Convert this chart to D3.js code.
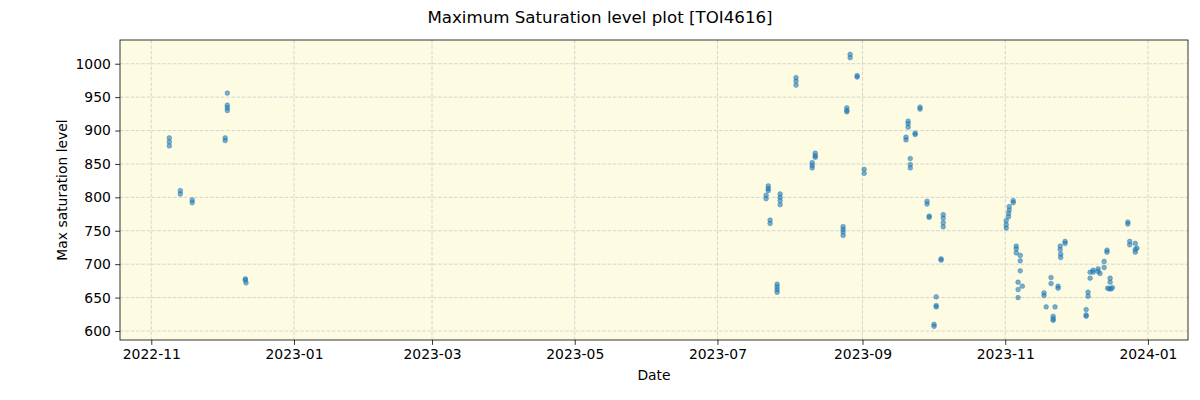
<!DOCTYPE html>
<html>
<head>
<meta charset="utf-8">
<script src="https://cdn.jsdelivr.net/npm/d3@7"></script>
<style>
  html, body { margin: 0; padding: 0; background: #ffffff; }
  svg { display: block; font-family: "DejaVu Sans", sans-serif; }
</style>
</head>
<body>
<svg id="chart" width="1200" height="400"></svg>
<script>
// ---- data ----
const chartTitle = "Maximum Saturation level plot [TOI4616]";
const xLabel = "Date";
const yLabel = "Max saturation level";

const obsDates = [
  "2022-11-08T17","2022-11-08T17","2022-11-08T17",
  "2022-11-13T10","2022-11-13T10",
  "2022-11-18T12","2022-11-18T12",
  "2022-12-03T12","2022-12-03T12","2022-12-03T12","2022-12-03T12",
  "2022-12-02T14","2022-12-02T14",
  "2022-12-11T05","2022-12-11T05","2022-12-11T12",
  "2023-07-22T17","2023-07-22T17","2023-07-22T17",
  "2023-07-21T19","2023-07-21T19",
  "2023-07-27T19","2023-07-27T19","2023-07-27T19","2023-07-27T19",
  "2023-07-23T12","2023-07-23T12",
  "2023-07-26T12","2023-07-26T12","2023-07-26T12","2023-07-26T12",
  "2023-08-03T14","2023-08-03T14","2023-08-03T14",
  "2023-08-11T19","2023-08-11T19","2023-08-11T19",
  "2023-08-10T12","2023-08-10T12","2023-08-10T12",
  "2023-08-23T17","2023-08-23T17","2023-08-23T17","2023-08-23T17",
  "2023-08-25T07","2023-08-25T07","2023-08-25T07",
  "2023-08-26T17","2023-08-26T17",
  "2023-08-29T17","2023-08-29T17",
  "2023-09-01T17","2023-09-01T17",
  "2023-09-19T14","2023-09-19T14",
  "2023-09-20T12","2023-09-20T12","2023-09-20T12",
  "2023-09-21T10","2023-09-21T10","2023-09-21T10",
  "2023-09-23T12","2023-09-23T12",
  "2023-09-25T14","2023-09-25T14",
  "2023-09-28T14","2023-09-28T14",
  "2023-09-29T12","2023-09-29T12",
  "2023-10-01T14","2023-10-01T14",
  "2023-10-02T12","2023-10-02T12","2023-10-02T12",
  "2023-10-04T14","2023-10-04T14",
  "2023-10-05T12","2023-10-05T12","2023-10-05T12","2023-10-05T12",
  "2023-11-01T10","2023-11-01T10","2023-11-01T10",
  "2023-11-02T10","2023-11-02T10","2023-11-02T17","2023-11-02T17",
  "2023-11-04T10","2023-11-04T10",
  "2023-11-05T17","2023-11-05T17","2023-11-05T17",
  "2023-11-06T12","2023-11-06T12","2023-11-06T12",
  "2023-11-07T10","2023-11-07T10","2023-11-07T10",
  "2023-11-08T07",
  "2023-11-17T14","2023-11-17T14",
  "2023-11-18T12",
  "2023-11-20T14","2023-11-20T14",
  "2023-11-21T12","2023-11-21T12","2023-11-21T12",
  "2023-11-22T07",
  "2023-11-23T14","2023-11-23T14",
  "2023-11-24T12","2023-11-24T12","2023-11-24T17","2023-11-24T17",
  "2023-11-26T14","2023-11-26T14",
  "2023-12-05T14","2023-12-05T14","2023-12-05T14",
  "2023-12-06T10","2023-12-06T10",
  "2023-12-07T07","2023-12-07T07",
  "2023-12-08T14","2023-12-08T14",
  "2023-12-10T17","2023-12-10T17","2023-12-11T12",
  "2023-12-13T07","2023-12-13T07",
  "2023-12-14T12","2023-12-14T12",
  "2023-12-15T20","2023-12-15T20",
  "2023-12-14T19","2023-12-15T12","2023-12-16T07","2023-12-16T19",
  "2023-12-23T10","2023-12-23T10",
  "2023-12-24T05","2023-12-24T05",
  "2023-12-26T14","2023-12-26T14","2023-12-26T14","2023-12-27T07"
];
const satLevels = [
  889,883,877,
  810,805,
  796,792,
  956,938,934,930,
  889,885,
  678,676,672,
  817,813,810,
  803,798,
  805,800,795,789,
  766,761,
  670,666,662,658,
  979,974,968,
  866,862,860,
  852,848,844,
  756,752,748,743,
  934,930,928,
  1014,1009,
  982,980,
  842,836,
  890,886,
  914,910,905,
  858,849,844,
  896,894,
  935,932,
  794,790,
  772,770,
  610,607,
  651,638,636,
  708,706,
  774,769,762,756,
  765,759,754,
  771,776,781,786,
  795,792,
  727,723,717,
  673,662,650,
  713,705,690,
  667,
  657,653,
  636,
  680,671,
  622,618,616,
  636,
  667,664,
  727,722,715,710,
  734,731,
  632,624,622,
  658,652,
  688,679,
  691,688,
  693,689,686,
  704,695,
  721,718,
  679,673,
  664,663,663,665,
  763,760,
  734,729,
  731,722,718,724
];
const xTickDates = ["2022-11-01","2023-01-01","2023-03-01","2023-05-01","2023-07-01","2023-09-01","2023-11-01","2024-01-01"];
const xTickLabels = ["2022-11","2023-01","2023-03","2023-05","2023-07","2023-09","2023-11","2024-01"];
const yTicks = [600,650,700,750,800,850,900,950,1000];
const xDomain = ["2022-10-18T15","2024-01-18T03"];
const yDomain = [586.5, 1035.5];

// ---- drawing ----
const W = 1200, H = 400;
const plot = {left: 120, right: 1188, top: 40, bottom: 340};
const parseT = d3.utcParse("%Y-%m-%dT%H");
const parseD = d3.utcParse("%Y-%m-%d");

const x = d3.scaleUtc().domain(xDomain.map(parseT)).range([plot.left, plot.right]);
const y = d3.scaleLinear().domain(yDomain).range([plot.bottom, plot.top]);

const svg = d3.select("#chart");
svg.append("rect").attr("x",0).attr("y",0).attr("width",W).attr("height",H).attr("fill","#ffffff");

svg.append("rect")
  .attr("x", plot.left).attr("y", plot.top)
  .attr("width", plot.right - plot.left).attr("height", plot.bottom - plot.top)
  .attr("fill", "#fdfce3");

const xTickVals = xTickDates.map(parseD);

// grid
const grid = svg.append("g").attr("stroke", "#cccccc").attr("stroke-width", 0.8)
  .attr("stroke-dasharray", "3.7,1.6").attr("fill", "none");
grid.selectAll("line.gx").data(xTickVals).join("line")
  .attr("x1", d => x(d)).attr("x2", d => x(d))
  .attr("y1", plot.top).attr("y2", plot.bottom);
grid.selectAll("line.gy").data(yTicks).join("line")
  .attr("x1", plot.left).attr("x2", plot.right)
  .attr("y1", d => y(d)).attr("y2", d => y(d));

// points
const pts = obsDates.map((d, i) => ({t: parseT(d), v: satLevels[i]}));
svg.append("g").selectAll("circle").data(pts).join("circle")
  .attr("cx", d => x(d.t)).attr("cy", d => y(d.v))
  .attr("r", 2.4)
  .attr("fill", "#1f77b4").attr("fill-opacity", 0.6)
  .attr("stroke", "#1f77b4").attr("stroke-opacity", 0.6).attr("stroke-width", 0.6);

// axes
const fmtMap = new Map(xTickDates.map((d, i) => [+parseD(d), xTickLabels[i]]));
const xAxis = d3.axisBottom(x).tickValues(xTickVals)
  .tickFormat(d => fmtMap.get(+d)).tickSize(4.86).tickPadding(4.3);
const yAxis = d3.axisLeft(y).tickValues(yTicks).tickFormat(d3.format("d"))
  .tickSize(4.86).tickPadding(4.3);

const gx = svg.append("g").attr("transform", `translate(0,${plot.bottom})`).call(xAxis);
const gy = svg.append("g").attr("transform", `translate(${plot.left},0)`).call(yAxis);
[gx, gy].forEach(g => {
  g.select(".domain").remove();
  g.selectAll(".tick line").attr("stroke", "#000").attr("stroke-width", 0.8);
  g.selectAll(".tick text").attr("fill", "#000")
    .style("font-family", "'DejaVu Sans', sans-serif").style("font-size", "13.9px");
});

// frame
svg.append("rect")
  .attr("x", plot.left).attr("y", plot.top)
  .attr("width", plot.right - plot.left).attr("height", plot.bottom - plot.top)
  .attr("fill", "none").attr("stroke", "#000").attr("stroke-width", 0.8);

// labels
svg.append("text").attr("x", W / 2).attr("y", 22.5).attr("text-anchor", "middle")
  .style("font-size", "16.67px").attr("fill", "#000").text(chartTitle);
svg.append("text").attr("x", (plot.left + plot.right) / 2).attr("y", 380).attr("text-anchor", "middle")
  .style("font-size", "13.9px").attr("fill", "#000").text(xLabel);
svg.append("text")
  .attr("transform", `translate(67,${(plot.top + plot.bottom) / 2}) rotate(-90)`)
  .attr("text-anchor", "middle")
  .style("font-size", "13.9px").attr("fill", "#000").text(yLabel);
</script>
</body>
</html>
